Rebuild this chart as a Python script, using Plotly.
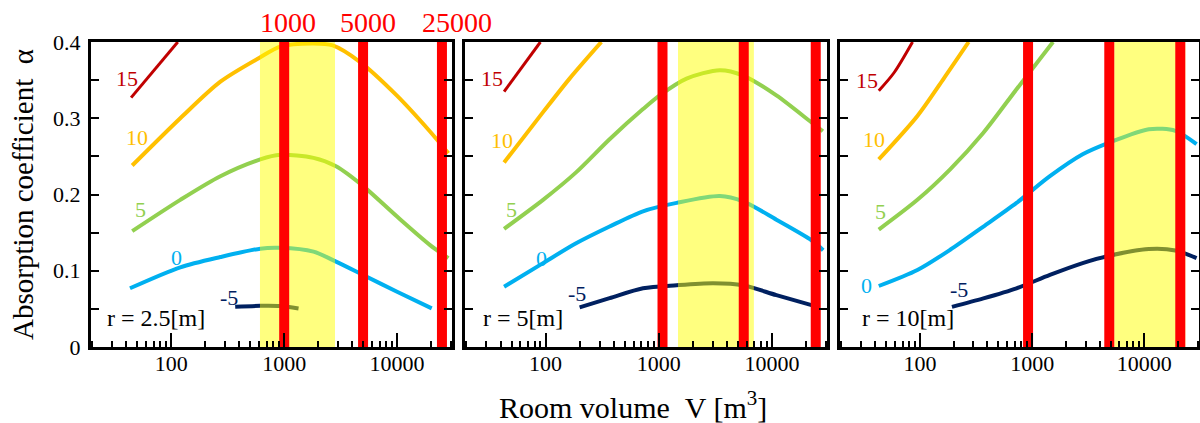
import math
import plotly.graph_objects as go

# ---------------- data ----------------
# room volume V [m^3] and absorption coefficient alpha for each curve
# panel r = 2.5 m
v25_p15 = [44, 114]
a25_p15 = [0.327, 0.400]
v25_p10 = [45, 120, 272, 614, 923, 1820, 2690, 4680, 9930, 19500, 28500]
a25_p10 = [0.238, 0.300, 0.348, 0.380, 0.394, 0.398, 0.3955, 0.374, 0.330, 0.283, 0.254]
v25_p5 = [45, 120, 272, 614, 923, 1820, 2880, 5010, 10000, 19500, 28500]
a25_p5 = [0.152, 0.193, 0.224, 0.246, 0.252, 0.248, 0.237, 0.211, 0.171, 0.134, 0.1165]
v25_0 = [43, 120, 272, 614, 923, 1820, 2880, 5010, 10000, 20300]
a25_0 = [0.077, 0.1045, 0.118, 0.129, 0.130, 0.125, 0.112, 0.0945, 0.0725, 0.0506]
v25_m5 = [368, 614, 923, 1340]
a25_m5 = [0.0527, 0.054, 0.0537, 0.0506]

# panel r = 5 m
v5_p15 = [43, 90]
a5_p15 = [0.335, 0.400]
v5_p10 = [43, 95, 163, 311]
a5_p10 = [0.242, 0.308, 0.352, 0.400]
v5_p5 = [43, 95, 186, 368, 726, 1020, 1760, 3470, 5570, 10960, 22400, 28200]
a5_p5 = [0.155, 0.193, 0.229, 0.2725, 0.312, 0.330, 0.352, 0.363, 0.356, 0.330, 0.2945, 0.283]
v5_0 = [43, 95, 186, 368, 726, 1440, 3470, 5570, 10960, 22400, 28400]
a5_0 = [0.079, 0.110, 0.136, 0.158, 0.178, 0.189, 0.198, 0.191, 0.167, 0.140, 0.127]
v5_m5 = [200, 368, 726, 1440, 3020, 5570, 10960, 22400]
a5_m5 = [0.052, 0.064, 0.077, 0.081, 0.0836, 0.081, 0.068, 0.055]

# panel r = 10 m
v10_p15 = [43, 59, 86]
a10_p15 = [0.336, 0.360, 0.400]
v10_p10 = [43, 95, 163, 272]
a10_p10 = [0.246, 0.303, 0.352, 0.400]
v10_p5 = [43, 95, 186, 368, 726, 1535]
a10_p5 = [0.154, 0.193, 0.233, 0.281, 0.338, 0.400]
v10_0 = [43, 95, 186, 368, 726, 1440, 2820, 4860, 10960, 18900, 29200]
a10_0 = [0.080, 0.101, 0.1275, 0.158, 0.189, 0.224, 0.2527, 0.268, 0.2857, 0.2835, 0.266]
v10_m5 = [193, 368, 726, 1440, 2820, 4860, 10960, 18900, 29200]
a10_m5 = [0.0527, 0.0638, 0.077, 0.0945, 0.110, 0.1196, 0.1284, 0.1266, 0.1165]

curve_labels = ["15", "10", "5", "0", "-5"]
distance_labels = ["r = 2.5[m]", "r = 5[m]", "r = 10[m]"]

# marked room volumes (red lines) and highlighted volume band, per panel
marked_volumes_25 = [1000, 5000, 25000]
marked_volumes_5 = [1080, 5640, 24400]
marked_volumes_10 = [920, 4870, 20900]
band_25 = [610, 2820]
band_5 = [1480, 6930]
band_10 = [5390, 23200]

marked_labels = ["1000", "5000", "25000"]

y_ticks = [0, 0.05, 0.1, 0.15, 0.2, 0.25, 0.3, 0.35, 0.4]
y_ticktext = ["0", "", "0.1", "", "0.2", "", "0.3", "", "0.4"]
x_major = [100, 1000, 10000]
x_major_text = ["100", "1000", "10000"]
x_all = [m * 10 ** e for e in (1, 2, 3, 4) for m in range(1, 10) if 20 <= m * 10 ** e <= 30000]
x_all_text = [str(v) if v in x_major else "" for v in x_all]

# ---------------- styling ----------------
FONT = "Liberation Serif"
colors = ["#C00000", "#FFC000", "#92D050", "#00B0F0", "#002060"]
widths = [3, 4, 4, 4, 4]

W, H = 1200, 423
plot_top, plot_bottom = 42, 347
panel_px = [(91, 452), (465, 827), (840, 1199)]
x_range = [1.288, 4.487]
y_range = [0, 0.4]

panels = [
    dict(curves=[(v25_p15, a25_p15), (v25_p10, a25_p10), (v25_p5, a25_p5), (v25_0, a25_0), (v25_m5, a25_m5)],
         marks=marked_volumes_25, band=band_25,
         offsets=[(-4, -19), (5, -28), (8, -22), (47, -31), (-6, -9)], rx=0.038),
    dict(curves=[(v5_p15, a5_p15), (v5_p10, a5_p10), (v5_p5, a5_p5), (v5_0, a5_0), (v5_m5, a5_m5)],
         marks=marked_volumes_5, band=band_5,
         offsets=[(-12, -13), (-2, -22), (7, -19), (37, -28), (-3, -14)], rx=0.043),
    dict(curves=[(v10_p15, a10_p15), (v10_p10, a10_p10), (v10_p5, a10_p5), (v10_0, a10_0), (v10_m5, a10_m5)],
         marks=marked_volumes_10, band=band_10,
         offsets=[(-12, -10), (-5, -20), (2, -18), (-12, -1), (7, -17)], rx=0.056),
]

fig = go.Figure()
annotations = []
layout_axes = {}

y_dom = [1 - plot_bottom / H, 1 - plot_top / H]

for i, p in enumerate(panels):
    n = "" if i == 0 else str(i + 1)
    xa, ya = "x" + n, "y" + n
    x0px, x1px = panel_px[i]

    # main axis: short ticks at every 1..9 x 10^k, labels at decades
    layout_axes["xaxis" + n] = dict(
        type="log", range=x_range, domain=[x0px / W, x1px / W], anchor=ya,
        tickmode="array", tickvals=x_all, ticktext=x_all_text,
        ticks="inside", ticklen=6, tickwidth=1.5, tickcolor="black",
        showline=True, linewidth=3, linecolor="black", mirror=True,
        showgrid=False, zeroline=False, automargin=False, ticklabelstandoff=-5,
        tickfont=dict(family=FONT, size=22, color="black"),
    )
    # overlay axis carrying the longer decade ticks
    on = str(i + 4)
    layout_axes["xaxis" + on] = dict(
        type="log", range=x_range, overlaying=xa, anchor=ya, side="bottom",
        tickmode="array", tickvals=x_major, showticklabels=False,
        ticks="inside", ticklen=14, tickwidth=1.5, tickcolor="black",
        showline=False, showgrid=False, zeroline=False, automargin=False,
    )
    fig.add_trace(go.Scatter(x=[x_major[0]], y=[-1], xaxis="x" + on, yaxis=ya,
                             mode="markers", marker=dict(size=1, color="rgba(0,0,0,0)"),
                             hoverinfo="skip"))

    layout_axes["yaxis" + n] = dict(
        range=y_range, domain=y_dom, anchor=xa,
        tickmode="array", tickvals=y_ticks, ticktext=y_ticktext,
        showticklabels=(i == 0),
        ticks="inside", ticklen=8, tickwidth=1.5, tickcolor="black",
        showline=True, linewidth=3, linecolor="black", mirror="ticks",
        showgrid=False, zeroline=False, automargin=False, ticklabelstandoff=3,
        tickfont=dict(family=FONT, size=22, color="black"),
    )

    for k, (vv, aa) in enumerate(p["curves"]):
        fig.add_trace(go.Scatter(
            x=vv, y=aa, mode="lines", xaxis=xa, yaxis=ya,
            line=dict(color=colors[k], width=widths[k], shape="spline", smoothing=0.8),
            hoverinfo="skip",
        ))
        dx, dy = p["offsets"][k]
        annotations.append(dict(
            x=math.log10(vv[0]), y=aa[0], xref=xa, yref=ya,
            text=curve_labels[k], showarrow=False, xshift=dx, yshift=-dy,
            xanchor="center", yanchor="middle",
            font=dict(family=FONT, size=22, color=colors[k]),
        ))

    # highlighted volume band, semi-transparent over the curves
    b0, b1 = p["band"]
    fig.add_trace(go.Scatter(
        x=[b0, b1, b1, b0, b0], y=[y_range[0], y_range[0], y_range[1], y_range[1], y_range[0]],
        mode="lines", fill="toself", fillcolor="rgba(255,255,0,0.5)",
        line=dict(width=0, color="rgba(0,0,0,0)"), xaxis=xa, yaxis=ya, hoverinfo="skip",
    ))
    # marked room volumes
    for v in p["marks"]:
        fig.add_trace(go.Scatter(
            x=[v, v], y=y_range, mode="lines", xaxis=xa, yaxis=ya,
            line=dict(color="#FF0000", width=10), hoverinfo="skip",
        ))

    annotations.append(dict(
        x=p["rx"], y=0.095, xref=xa + " domain", yref=ya + " domain",
        text=distance_labels[i], showarrow=False, xanchor="left", yanchor="middle",
        font=dict(family=FONT, size=24, color="black"),
    ))

# red volume labels above the first panel
for v, t, sh in zip(marked_volumes_25, marked_labels, [4, 5, 15]):
    annotations.append(dict(
        x=math.log10(v), y=1 - 23 / H, xref="x", yref="paper",
        text=t, showarrow=False, xshift=sh, xanchor="center", yanchor="middle",
        font=dict(family=FONT, size=28, color="#FF0000"),
    ))

# axis titles
annotations.append(dict(
    x=23 / W, y=1 - 195 / H, xref="paper", yref="paper",
    text="Absorption coefficient\u00a0\u00a0α", textangle=-90, showarrow=False,
    xanchor="center", yanchor="middle",
    font=dict(family=FONT, size=29, color="black"),
))
annotations.append(dict(
    x=633 / W, y=1 - 405 / H, xref="paper", yref="paper",
    text="Room volume\u00a0\u00a0V [m<sup>3</sup>]", showarrow=False,
    xanchor="center", yanchor="middle",
    font=dict(family=FONT, size=30, color="black"),
))

fig.update_layout(
    template="none",
    width=W, height=H, margin=dict(l=0, r=0, t=0, b=0),
    paper_bgcolor="white", plot_bgcolor="white", showlegend=False,
    annotations=annotations, **layout_axes,
)

fig.write_html("out.html")
